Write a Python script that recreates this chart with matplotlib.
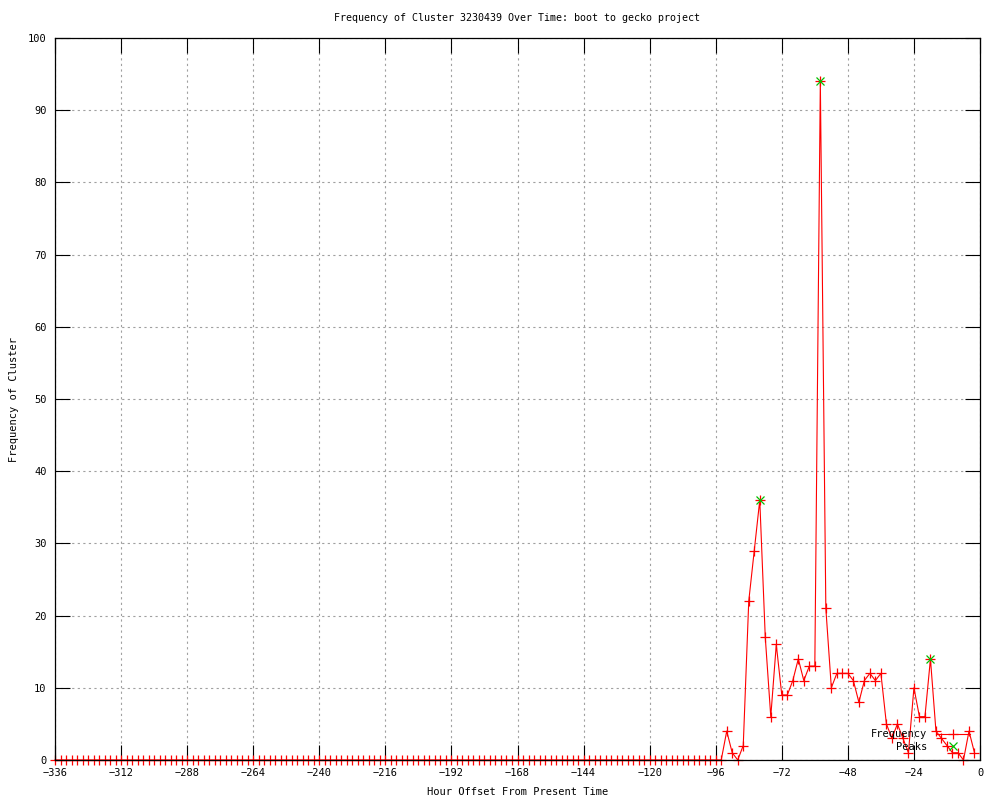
import numpy as np
import matplotlib
matplotlib.use('Agg')
import matplotlib.pyplot as plt

# Hour offsets (every 2 hours, -336 .. -2)
hours = np.arange(-336, 0, 2)

# Frequency: flat zero until -94, then activity
quiet_counts = [0, 0, 0, 0, 0, 0, 0, 0, 0, 0, 0, 0, 0, 0, 0, 0, 0, 0, 0, 0,
                0, 0, 0, 0, 0, 0, 0, 0, 0, 0, 0, 0, 0, 0, 0, 0, 0, 0, 0, 0,
                0, 0, 0, 0, 0, 0, 0, 0, 0, 0, 0, 0, 0, 0, 0, 0, 0, 0, 0, 0,
                0, 0, 0, 0, 0, 0, 0, 0, 0, 0, 0, 0, 0, 0, 0, 0, 0, 0, 0, 0,
                0, 0, 0, 0, 0, 0, 0, 0, 0, 0, 0, 0, 0, 0, 0, 0, 0, 0, 0, 0,
                0, 0, 0, 0, 0, 0, 0, 0, 0, 0, 0, 0, 0, 0, 0, 0, 0, 0, 0, 0,
                0, 0]
active_counts = [4, 1, 0, 2, 22, 29, 36, 17, 6, 16,
                 9, 9, 11, 14, 11, 13, 13, 94, 21, 10,
                 12, 12, 12, 11, 8, 11, 12, 11, 12, 5,
                 3, 5, 3, 1, 10, 6, 6, 14, 4, 3,
                 2, 1, 1, 0, 4, 1]
frequency = quiet_counts + active_counts

# Peaks
peak_hours = [-80, -58, -18]
peak_values = [36, 94, 14]

xticks = np.arange(-336, 1, 24)
yticks = np.arange(0, 101, 10)

plt.rcParams['font.family'] = ['DejaVu Sans Mono']
plt.rcParams['font.size'] = 7.5

fig = plt.figure(figsize=(10, 8), dpi=100)
ax = fig.add_axes([0.055, 0.05, 0.925, 0.9025])

ax.plot(hours, frequency, color='#ff0000', linewidth=0.8, marker='+',
        markersize=7.5, markeredgewidth=0.9, label='Frequency', clip_on=False)
ax.plot(peak_hours, peak_values, linestyle='none', color='#00c000',
        marker='x', markersize=6, markeredgewidth=0.9, label='Peaks')

ax.set_xlim(-336, 0)
ax.set_ylim(0, 100)
ax.set_xticks(xticks)
ax.set_yticks(yticks)
ax.tick_params(direction='in', length=11, width=0.8, top=True, right=True,
               labelsize=7.5, pad=6)
ax.grid(True, color='#a0a0a0', linewidth=0.8, linestyle=(0, (2, 3)))
for s in ax.spines.values():
    s.set_linewidth(0.9)

ax.set_title('Frequency of Cluster 3230439 Over Time: boot to gecko project',
             fontsize=7.2, pad=12)
ax.set_xlabel('Hour Offset From Present Time', labelpad=6)
ax.set_ylabel('Frequency of Cluster')
ax.yaxis.set_label_coords(-0.039, 0.5)

ax.legend(loc='lower right', bbox_to_anchor=(0.997, 0.001), frameon=False,
          markerfirst=False, handlelength=3.3, handletextpad=0.8,
          labelspacing=0.25, borderpad=0.2, fontsize=7.5)

fig.savefig('out.png', dpi=100)
